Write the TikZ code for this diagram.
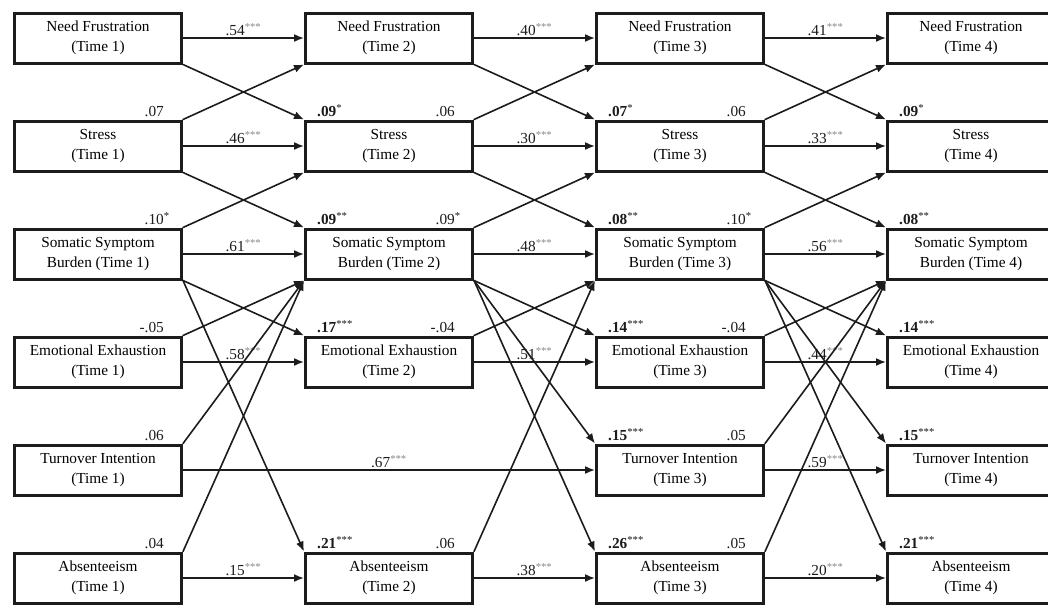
\documentclass[tikz,border=0pt]{standalone}
\usepackage{fontspec}
\setmainfont{Liberation Serif}
\usepackage{tikz}
\usetikzlibrary{arrows.meta,positioning,shadows}
\usepackage{xcolor}
\definecolor{ink}{HTML}{1C1C1C}
\definecolor{starcol}{HTML}{8A8A8A}
\newcommand{\sig}[1]{\textsuperscript{\textcolor{starcol}{#1}}}
\newcommand{\rsq}[2]{\textbf{#1}\rlap{\textsuperscript{#2}}}
\newcommand{\crs}[2]{#1\rlap{\textsuperscript{#2}}}
\tikzset{
  >={Latex[length=10pt,width=8pt]},
  varbox/.style={draw=ink,fill=white,line width=3pt,minimum width=167pt,
                 minimum height=50pt,inner sep=2pt,align=center,
                 font=\fontsize{15.3}{20}\selectfont,
                 drop shadow={shadow xshift=-1.8pt,shadow yshift=-1.2pt,
                              fill=black!35}},
  link/.style={->,line width=1.6pt,draw=ink},
  coef/.style={font=\fontsize{15.3}{17}\selectfont,inner sep=1pt,text=ink},
  rlab/.style={coef,anchor=base east},
  llab/.style={coef,anchor=base west}
}

\begin{document}
\begin{tikzpicture}[x=1pt,y=1pt,line cap=round,line join=miter]
  \path[use as bounding box] (0,0) rectangle (1048,-606);
  \clip (0,0) rectangle (1048,-606);

  % Time 1
  \node[varbox] (nf1) at (98,-38) {Need Frustration\\(Time 1)};
  \node[varbox,below=55pt of nf1] (st1) {Stress\\(Time 1)};
  \node[varbox,below=55pt of st1] (ssb1) {Somatic Symptom\\Burden (Time 1)};
  \node[varbox,below=55pt of ssb1] (ee1) {Emotional Exhaustion\\(Time 1)};
  \node[varbox,below=55pt of ee1] (ti1) {Turnover Intention\\(Time 1)};
  \node[varbox,below=55pt of ti1] (ab1) {Absenteeism\\(Time 1)};

  % Time 2
  \node[varbox,right=121pt of nf1] (nf2) {Need Frustration\\(Time 2)};
  \node[varbox,right=121pt of st1] (st2) {Stress\\(Time 2)};
  \node[varbox,right=121pt of ssb1] (ssb2) {Somatic Symptom\\Burden (Time 2)};
  \node[varbox,right=121pt of ee1] (ee2) {Emotional Exhaustion\\(Time 2)};
  \node[varbox,right=121pt of ab1] (ab2) {Absenteeism\\(Time 2)};

  % Time 3
  \node[varbox,right=121pt of nf2] (nf3) {Need Frustration\\(Time 3)};
  \node[varbox,right=121pt of st2] (st3) {Stress\\(Time 3)};
  \node[varbox,right=121pt of ssb2] (ssb3) {Somatic Symptom\\Burden (Time 3)};
  \node[varbox,right=121pt of ee2] (ee3) {Emotional Exhaustion\\(Time 3)};
  \node[varbox,below=55pt of ee3] (ti3) {Turnover Intention\\(Time 3)};
  \node[varbox,right=121pt of ab2] (ab3) {Absenteeism\\(Time 3)};

  % Time 4
  \node[varbox,right=121pt of nf3] (nf4) {Need Frustration\\(Time 4)};
  \node[varbox,right=121pt of st3] (st4) {Stress\\(Time 4)};
  \node[varbox,right=121pt of ssb3] (ssb4) {Somatic Symptom\\Burden (Time 4)};
  \node[varbox,right=121pt of ee3] (ee4) {Emotional Exhaustion\\(Time 4)};
  \node[varbox,right=121pt of ti3] (ti4) {Turnover Intention\\(Time 4)};
  \node[varbox,right=121pt of ab3] (ab4) {Absenteeism\\(Time 4)};

  % explained variance
  \node[llab] at ([xshift=12pt,yshift=3pt]st2.north west) {\rsq{.09}{*}};
  \node[llab] at ([xshift=12pt,yshift=3pt]ssb2.north west) {\rsq{.09}{**}};
  \node[llab] at ([xshift=12pt,yshift=3pt]ee2.north west) {\rsq{.17}{***}};
  \node[llab] at ([xshift=12pt,yshift=3pt]ab2.north west) {\rsq{.21}{***}};
  \node[llab] at ([xshift=12pt,yshift=3pt]st3.north west) {\rsq{.07}{*}};
  \node[llab] at ([xshift=12pt,yshift=3pt]ssb3.north west) {\rsq{.08}{**}};
  \node[llab] at ([xshift=12pt,yshift=3pt]ee3.north west) {\rsq{.14}{***}};
  \node[llab] at ([xshift=12pt,yshift=3pt]ti3.north west) {\rsq{.15}{***}};
  \node[llab] at ([xshift=12pt,yshift=3pt]ab3.north west) {\rsq{.26}{***}};
  \node[llab] at ([xshift=12pt,yshift=3pt]st4.north west) {\rsq{.09}{*}};
  \node[llab] at ([xshift=12pt,yshift=3pt]ssb4.north west) {\rsq{.08}{**}};
  \node[llab] at ([xshift=12pt,yshift=3pt]ee4.north west) {\rsq{.14}{***}};
  \node[llab] at ([xshift=12pt,yshift=3pt]ti4.north west) {\rsq{.15}{***}};
  \node[llab] at ([xshift=12pt,yshift=3pt]ab4.north west) {\rsq{.21}{***}};

  % cross-lagged paths into somatic burden / need frustration
  \node[rlab] at ([xshift=-18pt,yshift=3pt]st1.north east) {\crs{.07}{}};
  \node[rlab] at ([xshift=-18pt,yshift=3pt]ssb1.north east) {\crs{.10}{*}};
  \node[rlab] at ([xshift=-18pt,yshift=3pt]ee1.north east) {\crs{-.05}{}};
  \node[rlab] at ([xshift=-18pt,yshift=3pt]ti1.north east) {\crs{.06}{}};
  \node[rlab] at ([xshift=-18pt,yshift=3pt]ab1.north east) {\crs{.04}{}};
  \node[rlab] at ([xshift=-18pt,yshift=3pt]st2.north east) {\crs{.06}{}};
  \node[rlab] at ([xshift=-18pt,yshift=3pt]ssb2.north east) {\crs{.09}{*}};
  \node[rlab] at ([xshift=-18pt,yshift=3pt]ee2.north east) {\crs{-.04}{}};
  \node[rlab] at ([xshift=-18pt,yshift=3pt]ab2.north east) {\crs{.06}{}};
  \node[rlab] at ([xshift=-18pt,yshift=3pt]st3.north east) {\crs{.06}{}};
  \node[rlab] at ([xshift=-18pt,yshift=3pt]ssb3.north east) {\crs{.10}{*}};
  \node[rlab] at ([xshift=-18pt,yshift=3pt]ee3.north east) {\crs{-.04}{}};
  \node[rlab] at ([xshift=-18pt,yshift=3pt]ti3.north east) {\crs{.05}{}};
  \node[rlab] at ([xshift=-18pt,yshift=3pt]ab3.north east) {\crs{.05}{}};

  % Time 1 -> Time 2
  \draw[link] (nf1.east) -- node[coef,above] {.54\sig{***}} (nf2.west);
  \draw[link] (st1.east) -- node[coef,above] {.46\sig{***}} (st2.west);
  \draw[link] (ssb1.east) -- node[coef,above] {.61\sig{***}} (ssb2.west);
  \draw[link] (ee1.east) -- node[coef,above] {.58\sig{***}} (ee2.west);
  \draw[link] (ti1.east) -- node[coef,above] {.67\sig{***}} (ti3.west);
  \draw[link] (ab1.east) -- node[coef,above] {.15\sig{***}} (ab2.west);
  \draw[link] (nf1.south east) -- (st2.north west);
  \draw[link] (st1.north east) -- (nf2.south west);
  \draw[link] (st1.south east) -- (ssb2.north west);
  \draw[link] (ssb1.north east) -- (st2.south west);
  \draw[link] (ssb1.south east) -- (ee2.north west);
  \draw[link] (ssb1.south east) -- (ab2.north west);
  \draw[link] (ee1.north east) -- (ssb2.south west);
  \draw[link] (ti1.north east) -- (ssb2.south west);
  \draw[link] (ab1.north east) -- (ssb2.south west);

  % Time 2 -> Time 3
  \draw[link] (nf2.east) -- node[coef,above] {.40\sig{***}} (nf3.west);
  \draw[link] (st2.east) -- node[coef,above] {.30\sig{***}} (st3.west);
  \draw[link] (ssb2.east) -- node[coef,above] {.48\sig{***}} (ssb3.west);
  \draw[link] (ee2.east) -- node[coef,above] {.51\sig{***}} (ee3.west);
  \draw[link] (ab2.east) -- node[coef,above] {.38\sig{***}} (ab3.west);
  \draw[link] (nf2.south east) -- (st3.north west);
  \draw[link] (st2.north east) -- (nf3.south west);
  \draw[link] (st2.south east) -- (ssb3.north west);
  \draw[link] (ssb2.north east) -- (st3.south west);
  \draw[link] (ssb2.south east) -- (ee3.north west);
  \draw[link] (ssb2.south east) -- (ti3.north west);
  \draw[link] (ssb2.south east) -- (ab3.north west);
  \draw[link] (ee2.north east) -- (ssb3.south west);
  \draw[link] (ab2.north east) -- (ssb3.south west);

  % Time 3 -> Time 4
  \draw[link] (nf3.east) -- node[coef,above] {.41\sig{***}} (nf4.west);
  \draw[link] (st3.east) -- node[coef,above] {.33\sig{***}} (st4.west);
  \draw[link] (ssb3.east) -- node[coef,above] {.56\sig{***}} (ssb4.west);
  \draw[link] (ee3.east) -- node[coef,above] {.44\sig{***}} (ee4.west);
  \draw[link] (ti3.east) -- node[coef,above] {.59\sig{***}} (ti4.west);
  \draw[link] (ab3.east) -- node[coef,above] {.20\sig{***}} (ab4.west);
  \draw[link] (nf3.south east) -- (st4.north west);
  \draw[link] (st3.north east) -- (nf4.south west);
  \draw[link] (st3.south east) -- (ssb4.north west);
  \draw[link] (ssb3.north east) -- (st4.south west);
  \draw[link] (ssb3.south east) -- (ee4.north west);
  \draw[link] (ssb3.south east) -- (ti4.north west);
  \draw[link] (ssb3.south east) -- (ab4.north west);
  \draw[link] (ee3.north east) -- (ssb4.south west);
  \draw[link] (ti3.north east) -- (ssb4.south west);
  \draw[link] (ab3.north east) -- (ssb4.south west);
\end{tikzpicture}
\end{document}
